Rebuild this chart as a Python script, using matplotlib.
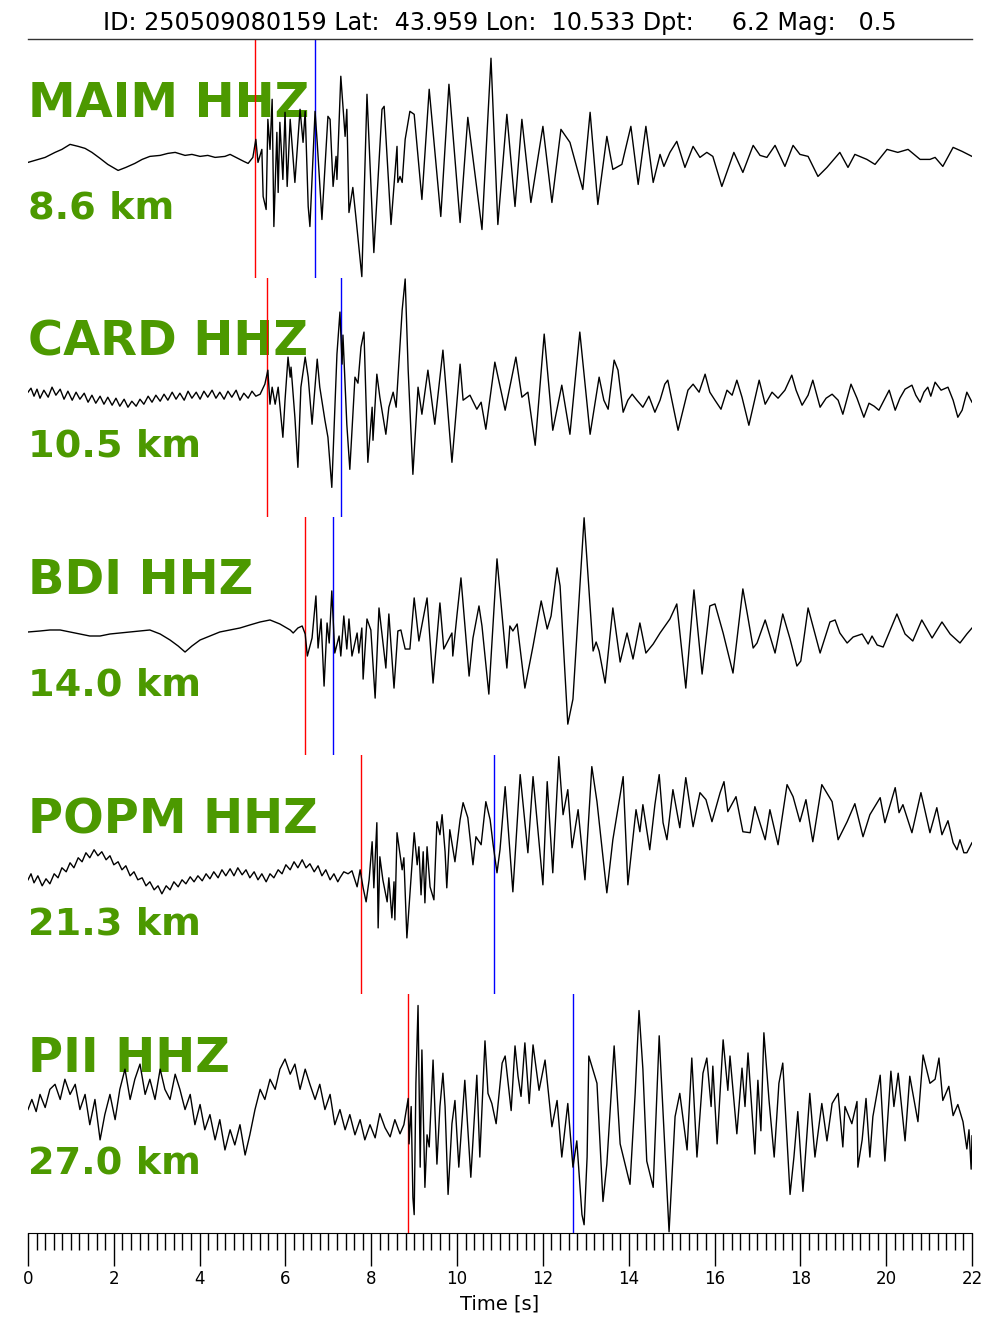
import matplotlib
matplotlib.use("Agg")
import matplotlib.pyplot as plt
import numpy as np
from matplotlib.ticker import MultipleLocator

title = "ID: 250509080159 Lat:  43.959 Lon:  10.533 Dpt:     6.2 Mag:   0.5"
stations = ["MAIM HHZ", "CARD HHZ", "BDI HHZ", "POPM HHZ", "PII HHZ"]
distances_km = [8.6, 10.5, 14.0, 21.3, 27.0]
p_picks = [5.29, 5.57, 6.46, 7.76, 8.86]
s_picks = [6.69, 7.30, 7.11, 10.86, 12.70]

# (time [s], amplitude [arbitrary counts])
maim = [
    (0.00, -4), (0.16, -2), (0.40, 1), (0.63, 6), (0.79, 9), (0.98, 14), (1.17, 12), (1.33, 10),
    (1.49, 6), (1.68, 0), (1.86, -6), (2.10, -12), (2.28, -9), (2.49, -5), (2.66, -1), (2.84, 2),
    (3.08, 3), (3.26, 5), (3.43, 6), (3.66, 3), (3.82, 4), (4.01, 2), (4.19, 3), (4.36, 1),
    (4.59, 2), (4.71, 4), (4.89, 0), (5.03, -3), (5.13, -5), (5.24, 1), (5.31, 19), (5.36, -4),
    (5.45, 9), (5.48, -38), (5.55, -51), (5.59, 39), (5.64, 9), (5.69, 59), (5.73, -68), (5.80, 26),
    (5.83, -34), (5.87, 36), (5.94, -21), (5.99, 46), (6.04, -28), (6.11, 39), (6.22, -24), (6.34, 49),
    (6.41, 16), (6.46, 47), (6.53, -48), (6.57, -68), (6.69, 47), (6.74, 16), (6.85, -61), (6.99, 42),
    (7.04, 39), (7.11, -28), (7.18, 2), (7.20, -21), (7.29, 82), (7.34, 52), (7.39, 22), (7.43, 49),
    (7.48, -54), (7.57, -29), (7.64, -58), (7.78, -118), (7.90, 64), (8.06, -94), (8.25, 49), (8.30, 52),
    (8.46, -66), (8.60, 12), (8.62, -24), (8.67, -18), (8.72, -24), (8.79, 19), (8.90, 47), (9.00, 44),
    (9.18, -41), (9.35, 69), (9.62, -58), (9.81, 74), (10.07, -64), (10.25, 41), (10.58, -71), (10.79, 100),
    (10.95, -66), (11.16, 44), (11.35, -48), (11.51, 39), (11.72, -44), (12.00, 32), (12.21, -44), (12.42, 29),
    (12.63, 16), (12.93, -31), (13.10, 46), (13.28, -46), (13.49, 22), (13.63, -11), (13.84, -6), (14.05, 32),
    (14.22, -26), (14.40, 32), (14.57, -24), (14.73, 4), (14.82, -8), (14.96, 6), (15.12, 17), (15.31, -9),
    (15.50, 12), (15.66, 1), (15.82, 6), (15.96, 2), (16.17, -28), (16.45, 6), (16.66, -14), (16.90, 13),
    (17.06, 3), (17.22, 1), (17.41, 13), (17.64, -8), (17.83, 13), (17.99, 4), (18.18, 2), (18.41, -18),
    (18.62, -9), (18.92, 6), (19.11, -9), (19.27, 4), (19.55, -1), (19.74, -6), (20.02, 9), (20.27, 6),
    (20.51, 9), (20.79, -1), (21.02, -1), (21.14, 1), (21.32, -8), (21.56, 11), (21.77, 7), (22.00, 2),
]

card = [
    (0.00, 5), (0.07, 9), (0.14, 1), (0.21, 8), (0.28, -1), (0.37, 7), (0.47, 0), (0.56, 10),
    (0.65, 2), (0.75, 8), (0.84, -2), (0.93, 6), (1.03, -3), (1.12, 5), (1.21, -2), (1.31, 4),
    (1.40, -5), (1.49, 2), (1.58, -6), (1.68, 1), (1.77, -7), (1.86, 0), (1.96, -8), (2.05, -1),
    (2.14, -9), (2.24, -2), (2.33, -10), (2.42, -4), (2.52, -9), (2.61, -2), (2.70, -7), (2.80, 1),
    (2.89, -5), (2.98, 2), (3.08, -4), (3.17, 3), (3.26, -3), (3.36, 5), (3.45, -2), (3.54, 4),
    (3.64, -3), (3.73, 6), (3.82, -1), (3.92, 5), (4.01, -2), (4.10, 6), (4.19, 0), (4.29, 7),
    (4.38, -1), (4.47, 5), (4.57, -2), (4.66, 6), (4.75, 0), (4.85, 7), (4.94, -3), (5.03, 4),
    (5.13, -1), (5.22, 6), (5.31, 1), (5.41, 3), (5.52, 13), (5.59, 27), (5.64, -7), (5.69, 10),
    (5.76, -7), (5.83, 10), (5.94, -40), (5.99, -3), (6.06, 40), (6.11, 20), (6.13, 30), (6.22, -20),
    (6.29, -70), (6.36, 10), (6.46, 40), (6.53, 20), (6.62, -27), (6.74, 38), (6.80, 10), (6.92, -23),
    (6.99, -40), (7.08, -90), (7.20, 43), (7.27, 85), (7.32, 33), (7.34, 62), (7.43, -27), (7.50, -72),
    (7.62, 20), (7.69, 14), (7.76, 50), (7.83, 65), (7.92, -65), (8.02, -10), (8.04, -43), (8.13, 23),
    (8.20, 0), (8.34, -37), (8.41, -10), (8.51, 5), (8.58, -10), (8.72, 87), (8.79, 118), (8.86, 27),
    (8.97, -77), (9.09, 10), (9.18, -17), (9.32, 27), (9.48, -27), (9.67, 47), (9.88, -65), (10.07, 33),
    (10.14, -3), (10.30, 2), (10.46, -12), (10.56, -5), (10.67, -32), (10.88, 35), (11.12, -13), (11.37, 40),
    (11.51, 0), (11.65, 5), (11.82, -48), (12.03, 63), (12.23, -33), (12.44, 12), (12.63, -37), (12.86, 65),
    (13.10, -37), (13.31, 20), (13.42, -3), (13.52, -12), (13.66, 37), (13.75, 27), (13.87, -15), (13.98, -3),
    (14.08, 3), (14.19, -3), (14.33, -10), (14.47, 1), (14.61, -15), (14.73, -3), (14.84, 13), (14.91, 17),
    (15.15, -33), (15.38, 7), (15.50, 13), (15.64, 5), (15.78, 23), (15.89, 5), (16.01, -3), (16.15, -12),
    (16.29, 7), (16.41, 2), (16.52, 17), (16.64, 0), (16.80, -28), (17.04, 17), (17.18, -7), (17.34, 5),
    (17.48, -1), (17.64, 7), (17.80, 22), (17.90, 7), (18.04, -8), (18.18, 2), (18.29, 17), (18.46, -10),
    (18.60, -1), (18.74, 3), (18.88, -3), (18.99, -17), (19.18, 13), (19.32, -1), (19.48, -20), (19.60, -6),
    (19.72, -9), (19.83, -13), (20.07, 7), (20.21, -13), (20.32, -1), (20.44, 8), (20.60, 12), (20.69, 2),
    (20.79, -5), (20.88, 5), (20.97, 10), (21.04, 1), (21.14, 15), (21.28, 7), (21.44, 10), (21.56, -3),
    (21.67, -20), (21.77, -13), (21.88, 5), (22.00, -5),
]

bdi = [
    (0.00, 4), (0.28, 5), (0.51, 6), (0.75, 6), (0.98, 4), (1.21, 2), (1.44, 0), (1.68, 0),
    (1.91, 2), (2.14, 3), (2.38, 4), (2.61, 5), (2.84, 6), (3.08, 2), (3.31, -4), (3.50, -10),
    (3.66, -16), (3.82, -10), (4.01, -4), (4.24, 0), (4.47, 4), (4.71, 6), (4.94, 8), (5.17, 11),
    (5.41, 14), (5.64, 16), (5.87, 12), (6.11, 6), (6.18, 3), (6.29, 8), (6.39, 10), (6.46, 2),
    (6.51, -20), (6.62, -2), (6.71, 40), (6.76, -12), (6.83, 17), (6.90, -50), (6.97, 13), (7.02, -7),
    (7.08, 45), (7.15, -17), (7.25, 0), (7.29, -20), (7.36, 20), (7.43, -13), (7.48, 17), (7.55, -20),
    (7.67, 3), (7.71, -17), (7.78, 8), (7.81, -43), (7.90, 17), (7.99, 6), (8.09, -62), (8.18, 28),
    (8.34, -32), (8.41, 22), (8.53, -52), (8.62, 5), (8.69, 6), (8.79, -13), (8.90, -13), (9.00, 38),
    (9.11, -5), (9.30, 38), (9.44, -47), (9.60, 33), (9.69, -13), (9.88, 3), (9.90, -20), (10.00, 22),
    (10.09, 58), (10.28, -40), (10.37, -2), (10.51, 30), (10.58, 10), (10.74, -58), (10.93, 77), (11.16, -32),
    (11.23, 10), (11.30, 5), (11.40, 12), (11.58, -52), (11.77, -10), (11.96, 35), (12.10, 7), (12.19, 20),
    (12.33, 68), (12.40, 50), (12.58, -88), (12.70, -63), (12.96, 118), (13.17, -15), (13.24, -6), (13.31, -15),
    (13.45, -47), (13.63, 28), (13.80, -26), (13.96, 3), (14.10, -23), (14.26, 13), (14.40, -17), (14.57, -8),
    (14.73, 3), (14.96, 17), (15.12, 32), (15.33, -52), (15.52, 46), (15.71, -38), (15.89, 30), (16.01, 32),
    (16.20, 3), (16.43, -37), (16.66, 47), (16.76, 23), (16.90, -12), (16.99, -7), (17.18, 16), (17.41, -17),
    (17.59, 22), (17.76, -3), (17.92, -30), (18.01, -25), (18.18, 28), (18.46, -17), (18.69, 14), (18.81, 16),
    (18.92, 3), (19.09, -7), (19.23, -1), (19.44, 2), (19.58, -8), (19.67, 0), (19.79, -9), (19.93, -11),
    (20.25, 22), (20.44, 2), (20.62, -5), (20.83, 16), (21.07, -2), (21.30, 14), (21.49, 2), (21.72, -7),
    (21.88, 2), (22.00, 8),
]

popm = [
    (0.00, -5), (0.07, 1), (0.14, -8), (0.23, -1), (0.33, -11), (0.42, -4), (0.51, -9), (0.61, 1),
    (0.70, -3), (0.79, 7), (0.89, 3), (0.98, 12), (1.07, 7), (1.17, 17), (1.26, 13), (1.35, 22),
    (1.44, 17), (1.54, 25), (1.63, 19), (1.72, 23), (1.82, 15), (1.91, 19), (2.00, 10), (2.10, 13),
    (2.19, 5), (2.28, 9), (2.38, -1), (2.47, 3), (2.56, -5), (2.66, -3), (2.75, -11), (2.84, -7),
    (2.94, -15), (3.03, -11), (3.12, -19), (3.22, -11), (3.31, -15), (3.40, -7), (3.50, -12), (3.59, -5),
    (3.68, -9), (3.78, -2), (3.87, -7), (3.96, -1), (4.06, -6), (4.15, 1), (4.24, -4), (4.33, 3),
    (4.43, -3), (4.52, 5), (4.61, -1), (4.71, 6), (4.80, -1), (4.89, 7), (4.99, 0), (5.08, 5),
    (5.17, -3), (5.27, 3), (5.36, -5), (5.45, 1), (5.55, -7), (5.64, 1), (5.73, -3), (5.83, 5),
    (5.92, 1), (6.01, 10), (6.11, 5), (6.20, 13), (6.29, 7), (6.39, 15), (6.48, 7), (6.57, 11),
    (6.67, 3), (6.76, 9), (6.85, -1), (6.94, 5), (7.04, -5), (7.13, 1), (7.22, -7), (7.27, -3),
    (7.36, 3), (7.46, 1), (7.55, 4), (7.67, -12), (7.74, 5), (7.81, -13), (7.88, -27), (7.95, -5),
    (8.02, 33), (8.06, -13), (8.13, 52), (8.16, -53), (8.20, 18), (8.27, -5), (8.37, -27), (8.41, -3),
    (8.48, -43), (8.53, -7), (8.55, -45), (8.60, 42), (8.67, 20), (8.72, 5), (8.76, 17), (8.83, -63),
    (9.00, 42), (9.07, 10), (9.11, 28), (9.16, -20), (9.21, 23), (9.25, -28), (9.30, 28), (9.37, -12),
    (9.46, -25), (9.53, 53), (9.60, 40), (9.65, 60), (9.72, 23), (9.76, -13), (9.83, 45), (9.95, 13),
    (10.07, 55), (10.14, 72), (10.25, 57), (10.37, 10), (10.44, 38), (10.56, 30), (10.67, 73), (10.77, 55),
    (10.84, 30), (10.93, 2), (11.00, 25), (11.12, 88), (11.30, -17), (11.47, 100), (11.65, 22), (11.77, 98),
    (12.00, -10), (12.10, 93), (12.23, 2), (12.37, 118), (12.47, 60), (12.58, 85), (12.68, 27), (12.82, 65),
    (12.98, -5), (13.14, 108), (13.26, 73), (13.49, -18), (13.63, 35), (13.87, 98), (13.98, -10), (14.17, 65),
    (14.26, 43), (14.33, 70), (14.49, 25), (14.61, 70), (14.71, 100), (14.80, 52), (14.89, 35), (15.03, 85),
    (15.19, 47), (15.33, 97), (15.50, 48), (15.66, 82), (15.80, 75), (15.94, 53), (16.13, 82), (16.22, 93),
    (16.31, 63), (16.50, 78), (16.66, 43), (16.83, 42), (16.94, 68), (17.18, 35), (17.29, 65), (17.48, 30),
    (17.69, 90), (17.83, 78), (17.99, 53), (18.13, 75), (18.29, 33), (18.50, 90), (18.74, 73), (18.88, 35),
    (19.09, 53), (19.27, 71), (19.46, 38), (19.62, 60), (19.86, 77), (19.97, 52), (20.21, 87), (20.30, 62),
    (20.39, 70), (20.60, 42), (20.81, 82), (21.02, 42), (21.18, 67), (21.30, 40), (21.44, 54), (21.56, 32),
    (21.65, 25), (21.72, 35), (21.81, 22), (21.88, 22), (22.00, 32),
]

pii = [
    (0.00, 4), (0.09, 14), (0.19, 2), (0.28, 19), (0.40, 6), (0.51, 24), (0.63, 29), (0.75, 14),
    (0.86, 34), (0.98, 19), (1.10, 29), (1.21, 4), (1.33, 19), (1.44, -11), (1.56, 14), (1.68, -26),
    (1.79, -1), (1.91, 19), (2.03, -6), (2.14, 24), (2.26, 44), (2.38, 14), (2.49, 34), (2.61, 49),
    (2.73, 19), (2.84, 34), (2.96, 14), (3.08, 44), (3.19, 24), (3.31, 14), (3.43, 39), (3.54, 24),
    (3.66, 4), (3.78, 19), (3.89, -11), (4.01, 9), (4.12, -16), (4.24, -1), (4.36, -26), (4.47, -6),
    (4.59, -36), (4.71, -16), (4.82, -31), (4.94, -11), (5.06, -41), (5.17, -21), (5.29, 4), (5.41, 24),
    (5.52, 14), (5.64, 34), (5.76, 24), (5.87, 44), (5.99, 54), (6.11, 39), (6.22, 49), (6.34, 24),
    (6.46, 44), (6.57, 29), (6.69, 14), (6.80, 29), (6.92, 4), (7.04, 19), (7.15, -11), (7.27, 4),
    (7.39, -16), (7.50, -1), (7.62, -21), (7.74, -6), (7.85, -26), (7.97, -11), (8.09, -24), (8.20, 0),
    (8.32, -14), (8.44, -23), (8.55, -6), (8.67, -20), (8.76, -11), (8.86, 15), (8.88, -30), (8.93, 7),
    (8.97, -83), (9.00, -100), (9.04, 30), (9.09, 107), (9.14, -53), (9.18, 63), (9.25, -73), (9.30, -21),
    (9.35, -33), (9.44, 53), (9.53, -50), (9.60, 7), (9.67, 40), (9.72, 7), (9.79, -80), (9.88, -10),
    (9.95, 13), (10.04, -53), (10.18, 33), (10.32, -63), (10.46, 38), (10.53, -43), (10.65, 72), (10.72, 20),
    (10.81, 10), (10.91, -10), (11.05, 50), (11.12, 57), (11.26, 3), (11.35, 67), (11.42, 37), (11.49, 17),
    (11.58, 70), (11.68, 10), (11.77, 68), (11.91, 23), (12.05, 53), (12.21, -13), (12.33, 13), (12.44, -43),
    (12.58, 10), (12.70, -53), (12.79, -27), (12.91, -100), (12.96, -110), (13.03, -43), (13.07, 57), (13.26, 30),
    (13.40, -87), (13.49, -50), (13.66, 67), (13.80, -30), (14.03, -70), (14.15, 20), (14.24, 102), (14.33, 44),
    (14.42, -47), (14.57, -73), (14.71, 77), (14.94, -117), (15.08, -3), (15.19, 20), (15.36, -36), (15.47, 55),
    (15.59, -43), (15.73, 40), (15.82, 55), (15.92, 7), (15.96, 47), (16.06, -30), (16.20, 73), (16.31, 23),
    (16.36, 57), (16.52, -20), (16.64, 45), (16.71, 7), (16.78, 60), (16.94, -40), (17.01, 33), (17.08, -17),
    (17.15, 80), (17.27, 13), (17.39, -43), (17.50, 30), (17.59, 50), (17.76, -80), (17.85, -43), (17.94, 2),
    (18.06, -77), (18.22, 20), (18.34, -43), (18.50, 10), (18.62, -27), (18.74, 10), (18.88, 20), (18.99, -33),
    (19.04, 7), (19.20, -10), (19.32, 12), (19.34, -53), (19.44, -26), (19.53, 15), (19.62, -43), (19.69, -3),
    (19.86, 38), (19.97, -47), (20.11, 42), (20.18, 7), (20.28, 40), (20.44, -27), (20.55, 37), (20.74, -8),
    (20.86, 58), (21.02, 30), (21.14, 34), (21.23, 55), (21.32, 13), (21.46, 27), (21.56, -2), (21.67, 9),
    (21.79, -8), (21.88, -35), (21.93, -16), (21.98, -55), (22.00, -22),
]

traces = [maim, card, bdi, popm, pii]

green = "#4c9900"
W, H = 1000, 1333
fig = plt.figure(figsize=(W / 100, H / 100), dpi=100)
left, right = 28 / W, 972 / W
top_px, bot_px = 39, 1233
ph = (bot_px - top_px) / 5

axes = []
for i in range(5):
    y0 = 1 - (top_px + (i + 1) * ph) / H
    ax = fig.add_axes([left, y0, right - left, ph / H])
    axes.append(ax)
    data = np.array(traces[i], dtype=float)
    t, a = data[:, 0], data[:, 1]
    a = a / np.max(np.abs(a))
    ax.text(0.0, 0.675, stations[i], transform=ax.transAxes, fontsize=34.5,
            fontweight="bold", color=green, ha="left", va="baseline", zorder=1)
    ax.text(0.0, 0.25, f"{distances_km[i]:.1f} km", transform=ax.transAxes, fontsize=27.5,
            fontweight="bold", color=green, ha="left", va="baseline", zorder=1)
    ax.plot(t, a, color="black", lw=1.0, zorder=3, solid_joinstyle="round")
    ax.axvline(p_picks[i], color="red", lw=1.0, zorder=2)
    ax.axvline(s_picks[i], color="blue", lw=1.0, zorder=2)
    ax.set_xlim(0, 22)
    ax.set_ylim(-1.01, 1.01)
    ax.set_yticks([])
    for s in ["left", "right", "top", "bottom"]:
        ax.spines[s].set_visible(False)
    ax.patch.set_alpha(0)
    if i < 4:
        ax.set_xticks([])

axes[0].spines["top"].set_visible(True)
axes[0].spines["top"].set_color("#333333")
axes[0].spines["top"].set_linewidth(1.0)

axb = axes[-1]
axb.spines["bottom"].set_visible(True)
axb.spines["bottom"].set_color("black")
axb.xaxis.set_major_locator(MultipleLocator(2))
axb.xaxis.set_minor_locator(MultipleLocator(0.2))
axb.tick_params(axis="x", which="major", direction="out", length=24, width=1.0, labelsize=12, pad=3)
axb.tick_params(axis="x", which="minor", direction="out", length=12, width=1.0)
axb.set_xlabel("Time [s]", fontsize=14, labelpad=4)

fig.text(0.5, 1 - 23 / H, title, ha="center", va="center", fontsize=17.2)

fig.savefig("out.png", dpi=100)
